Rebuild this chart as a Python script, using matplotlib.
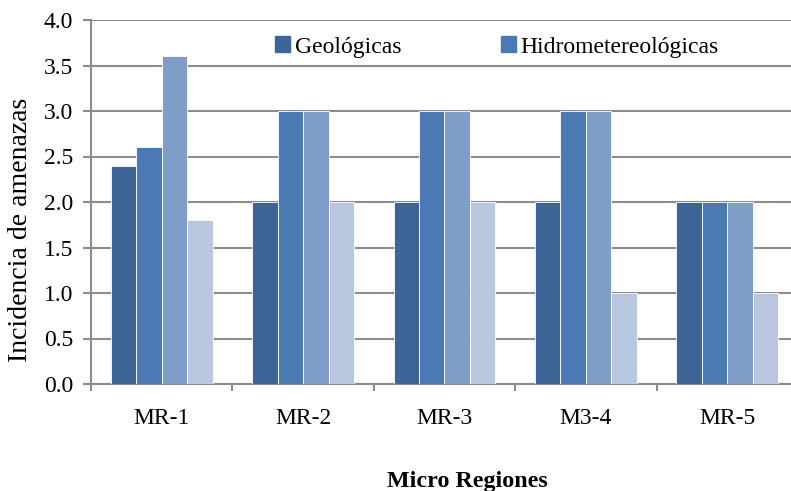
import matplotlib.pyplot as plt
import matplotlib.patches as mpatches
import numpy as np

plt.rcParams['font.family'] = ['Liberation Serif', 'DejaVu Serif']

regiones = ['MR-1', 'MR-2', 'MR-3', 'M3-4', 'MR-5']
geologicas = [2.4, 2.0, 2.0, 2.0, 2.0]
hidrometereologicas = [2.6, 3.0, 3.0, 3.0, 2.0]
serie3 = [3.6, 3.0, 3.0, 3.0, 2.0]
serie4 = [1.8, 2.0, 2.0, 1.0, 1.0]
leyenda = ['Geológicas', 'Hidrometereológicas']

colores = ['#3c6496', '#4a79b3', '#7f9dc9', '#b8c6e0']
series = [geologicas, hidrometereologicas, serie3, serie4]

fig = plt.figure(figsize=(7.91, 4.91), dpi=100)
ax = fig.add_axes([91 / 791, 1 - 384 / 491, 707 / 791, 364 / 491])

x = np.arange(len(regiones))
w = 0.18
for i, (vals, c) in enumerate(zip(series, colores)):
    ax.bar(x + (i - 1.5) * w, vals, w, color=c, edgecolor='white',
           linewidth=0.6, zorder=3)

ax.set_xlim(-0.5, len(regiones) - 0.5)
ax.set_ylim(0, 4.0)
ax.set_yticks(np.arange(0, 4.01, 0.5))
ax.set_yticklabels([f'{v:.1f}' for v in np.arange(0, 4.01, 0.5)])
ax.yaxis.grid(True, color='#8c8c8c', linewidth=1.5, zorder=0)
ax.set_axisbelow(True)

ax.set_xticks(x)
ax.set_xticklabels(regiones)
ax.set_xticks(np.arange(-0.5, len(regiones), 1), minor=True)
ax.tick_params(axis='x', which='major', length=0, labelsize=17, pad=17)
ax.tick_params(axis='x', which='minor', length=5, color='#8c8c8c', width=1.5)
ax.tick_params(axis='y', length=5.8, color='#8c8c8c', width=1.5, labelsize=17, pad=7)

for s in ['top', 'right']:
    ax.spines[s].set_visible(False)
for s in ['left', 'bottom']:
    ax.spines[s].set_color('#8c8c8c')
    ax.spines[s].set_linewidth(1.5)

fig.text(21 / 791, 1 - 230 / 491, 'Incidencia de amenazas', fontsize=20,
         rotation=90, ha='center', va='center')
fig.text(467 / 791, 1 - 481 / 491, 'Micro Regiones', fontsize=17.3,
         fontweight='bold', ha='center', va='center')

handles = [mpatches.Patch(color=colores[0]), mpatches.Patch(color=colores[1])]
ax.legend(handles, leyenda, ncol=2, frameon=False, loc='center left',
          bbox_to_anchor=(263 / 791, 1 - 47 / 491), bbox_transform=fig.transFigure,
          fontsize=17, handlelength=0.65, handleheight=0.65, handletextpad=0.2,
          columnspacing=4.2, borderpad=0)

fig.savefig('out.png', dpi=100)
